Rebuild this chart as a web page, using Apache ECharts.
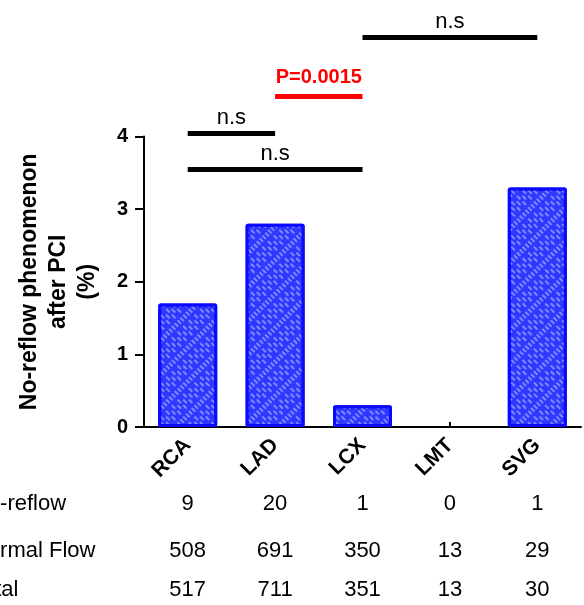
<!DOCTYPE html>
<html>
<head>
<meta charset="utf-8">
<script src="https://cdn.jsdelivr.net/npm/echarts@6/dist/echarts.min.js"></script>
<style>
html,body{margin:0;padding:0;background:#fff;}
#chart{width:584px;height:605px;}
</style>
</head>
<body>
<div id="chart"></div>
<script>
const categories = ['RCA', 'LAD', 'LCX', 'LMT', 'SVG'];
const noReflowPct = [1.7, 2.8, 0.3, 0, 3.3];
const noReflowCount = [9, 20, 1, 0, 1];
const normalFlowCount = [508, 691, 350, 13, 29];
const totalCount = [517, 711, 351, 13, 30];
const rowLabels = ['No-reflow', 'Normal Flow', 'Total'];
const yTicks = [0, 1, 2, 3, 4];
const comparisons = [
  { from: 'RCA', to: 'LCX', level: 3.55, text: 'n.s', sig: false },
  { from: 'RCA', to: 'LAD', level: 4.05, text: 'n.s', sig: false },
  { from: 'LAD', to: 'LCX', level: 4.56, text: 'P=0.0015', sig: true },
  { from: 'LCX', to: 'SVG', level: 5.37, text: 'n.s', sig: false }
];
const yTitle = 'No-reflow phenomenon\nafter PCI\n(%)';

const FONT = '"Liberation Sans", Arial, sans-serif';
const Y_MAX = 4, ANN_MAX = 5.5;
const PLOT_TOP = 136.6, PLOT_BOTTOM = 178, H = 605;
const plotH = H - PLOT_TOP - PLOT_BOTTOM;
const annTop = H - PLOT_BOTTOM - plotH * ANN_MAX / Y_MAX;

const tableRows = [noReflowCount, normalFlowCount, totalCount];
const rowOffsets = [77, 124, 163];

const chart = echarts.init(document.getElementById('chart'), null, { renderer: 'canvas' });

const xAxes = [{
  type: 'category', gridIndex: 0, data: categories, position: 'bottom',
  axisLine: { lineStyle: { color: '#000', width: 2 } },
  axisTick: { show: true, inside: true, length: 5, alignWithLabel: true, lineStyle: { color: '#000', width: 2 } },
  axisLabel: { rotate: 45, margin: 15, color: '#000', fontSize: 21, fontWeight: 'bold', fontFamily: FONT, interval: 0 }
}];
tableRows.forEach((row, i) => {
  xAxes.push({
    type: 'category', gridIndex: 0, data: row.map(String), position: 'bottom', offset: rowOffsets[i],
    axisLine: { show: false }, axisTick: { show: false },
    axisLabel: { margin: 0, verticalAlign: 'middle', color: '#000', fontSize: 22, fontFamily: FONT, interval: 0 },
    name: rowLabels[i], nameLocation: 'start', nameGap: 172,
    nameTextStyle: { align: 'left', verticalAlign: 'middle', color: '#000', fontSize: 22, fontFamily: FONT }
  });
});
xAxes.push({ type: 'category', gridIndex: 1, data: categories, show: false });

const annXIndex = xAxes.length - 1;

option = {
  animation: false,
  backgroundColor: '#fff',
  grid: [
    { left: 144, right: 3, top: PLOT_TOP, bottom: PLOT_BOTTOM, containLabel: false, outerBoundsMode: 'none' },
    { left: 144, right: 3, top: annTop, bottom: PLOT_BOTTOM, containLabel: false, outerBoundsMode: 'none' }
  ],
  xAxis: xAxes,
  yAxis: [
    {
      type: 'value', gridIndex: 0, min: 0, max: Y_MAX, interval: 1,
      splitLine: { show: false },
      axisLine: { show: true, lineStyle: { color: '#000', width: 2 } },
      axisTick: { show: true, length: 9, lineStyle: { color: '#000', width: 2 } },
      axisLabel: { margin: 16, color: '#000', fontSize: 20, fontWeight: 'bold', fontFamily: FONT,
        formatter: v => yTicks.includes(v) ? String(v) : '' },
      name: yTitle, nameLocation: 'middle', nameRotate: 90, nameGap: 42,
      nameTextStyle: { color: '#000', fontSize: 23, fontWeight: 'bold', fontFamily: FONT, lineHeight: 29, align: 'center' }
    },
    { type: 'value', gridIndex: 1, min: 0, max: ANN_MAX, show: false }
  ],
  series: [
    {
      type: 'bar', xAxisIndex: 0, yAxisIndex: 0,
      barWidth: 59,
      data: noReflowPct.map(v => v === 0 ? { value: v, itemStyle: { borderWidth: 0, opacity: 0 } } : v),
      itemStyle: {
        color: '#3038ff',
        borderColor: '#0a0aff',
        borderWidth: 3,
        borderRadius: 1,
        decal: {
          symbol: 'rect',
          symbolSize: 1,
          color: 'rgba(150,165,255,0.75)',
          dashArrayX: [[5, 3], [0, 4, 5, 3]],
          dashArrayY: [2, 2],
          rotation: Math.PI / 4
        }
      },
      emphasis: { disabled: true },
      silent: true
    },
    {
      type: 'line', xAxisIndex: annXIndex, yAxisIndex: 1, data: [],
      silent: true,
      markLine: {
        silent: true,
        symbol: ['none', 'none'],
        animation: false,
        emphasis: { disabled: true },
        data: comparisons.map(c => [
          {
            coord: [categories.indexOf(c.from), c.level],
            lineStyle: { color: c.sig ? '#ff0000' : '#000', width: 5, type: 'solid' },
            label: {
              show: true, formatter: c.text, position: 'insideMiddleTop',
              distance: c.sig ? 8 : 4,
              color: c.sig ? '#ff0000' : '#000',
              fontSize: c.sig ? 20 : 22,
              fontWeight: c.sig ? 'bold' : 'normal',
              fontFamily: FONT
            }
          },
          { coord: [categories.indexOf(c.to), c.level] }
        ])
      }
    }
  ]
};
chart.setOption(option);
</script>
</body>
</html>
